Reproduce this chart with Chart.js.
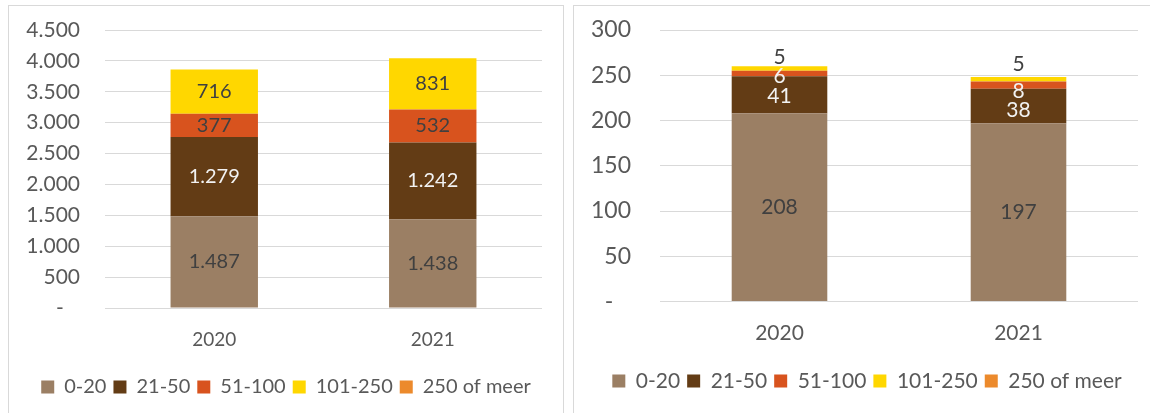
<!DOCTYPE html>
<html><head><meta charset="utf-8">
<script src="https://cdn.jsdelivr.net/npm/chart.js@4.4.1/dist/chart.umd.min.js"></script>
<style>
html,body{margin:0;padding:0;background:#fff;width:1150px;height:413px;overflow:hidden;}
.panel{position:absolute;border:1px solid #d9d9d9;background:#fff;}
#p1{left:8px;top:5px;width:554px;height:430px;}
#p2{left:573px;top:5px;width:600px;height:430px;}
canvas{position:absolute;left:0;top:0;}
</style></head>
<body>
<div class="panel" id="p1"><canvas id="c1" width="554" height="407"></canvas></div>
<div class="panel" id="p2"><canvas id="c2" width="586" height="407"></canvas></div>
<script>
// ---- data ----
const categories = ['2020', '2021'];
const seriesNames = ['0-20', '21-50', '51-100', '101-250', '250 of meer'];

// left chart
const left_0_20    = [1487, 1438];
const left_21_50   = [1279, 1242];
const left_51_100  = [377, 532];
const left_101_250 = [716, 831];
const left_250plus = [0, 0];
const leftTickMax = 4500, leftTickStep = 500;

// right chart
const right_0_20    = [208, 197];
const right_21_50   = [41, 38];
const right_51_100  = [6, 8];
const right_101_250 = [5, 5];
const right_250plus = [0, 0];
const rightTickMax = 300, rightTickStep = 50;

// ---- style ----
const colors = ['#9B7F64', '#633C15', '#D8531E', '#FFD700', '#EC8A2C'];
const FONT = 'Lato, "Open Sans", sans-serif';
const TXT = '#595959';

function fmt(v) { return String(v).replace(/\B(?=(\d{3})+(?!\d))/g, '.'); }

const segLabels = {
  id: 'segLabels',
  afterLayout(chart, args, opts) {
    const lg = chart.legend;
    if (lg && opts.legendShift) { lg.left += opts.legendShift; lg.right += opts.legendShift; }
  },
  afterDatasetsDraw(chart, args, opts) {
    const ctx = chart.ctx;
    ctx.save();
    ctx.font = opts.size + 'px ' + FONT;
    ctx.textAlign = 'center';
    ctx.textBaseline = 'middle';
    chart.data.datasets.forEach((ds, di) => {
      const meta = chart.getDatasetMeta(di);
      meta.data.forEach((bar, i) => {
        const v = ds.data[i];
        if (!v) return;
        const off = (opts.offsets[di] || [])[i] || 0;
        ctx.fillStyle = opts.colors[di];
        ctx.fillText(fmt(v), bar.x, (bar.y + bar.base) / 2 + off);
      });
    });
    ctx.restore();
  }
};

function makeChart(id, seriesData, cfg) {
  const datasets = seriesData.map((d, k) => ({
    label: seriesNames[k],
    data: d,
    backgroundColor: colors[k],
    borderWidth: 0,
    barPercentage: 0.4,
    categoryPercentage: 1.0
  }));
  return new Chart(document.getElementById(id), {
    type: 'bar',
    data: { labels: categories, datasets },
    plugins: [segLabels],
    options: {
      responsive: false,
      animation: false,
      devicePixelRatio: 1,
      layout: { padding: { left: 0, right: cfg.padR, top: cfg.padT, bottom: cfg.padB } },
      scales: {
        x: {
          stacked: true,
          grid: { display: false, drawTicks: false },
          border: { display: false },
          ticks: { color: TXT, font: { family: FONT, size: cfg.xFont }, padding: cfg.xPad },
          afterFit(s) { s.height = cfg.xH; s.paddingLeft = 0; s.paddingRight = 0; }
        },
        y: {
          stacked: true,
          min: 0, max: cfg.max,
          grid: { color: '#D9D9D9', lineWidth: 1, drawTicks: false },
          border: { display: false },
          ticks: {
            stepSize: cfg.step,
            color: TXT,
            font: { family: FONT, size: cfg.yFont },
            padding: cfg.yPad,
            callback: (v) => v === 0 ? '-   ' : fmt(v)
          },
          afterFit(s) { s.width = cfg.yW; s.paddingTop = 0; s.paddingBottom = 0; }
        }
      },
      plugins: {
        legend: {
          position: 'bottom',
          labels: {
            color: TXT,
            font: { family: FONT, size: cfg.legFont },
            boxWidth: 13, boxHeight: 13,
            padding: 7
          }
        },
        tooltip: { enabled: false },
        segLabels: { size: cfg.lblFont, colors: cfg.lblColors, offsets: cfg.offsets, legendShift: cfg.padR / 2 }
      }
    }
  });
}

makeChart('c1', [left_0_20, left_21_50, left_51_100, left_101_250, left_250plus], {
  padT: 24, padR: 21, padB: 6, xH: 62, xPad: 20, xFont: 19, yFont: 21, yPad: 25, yW: 96,
  legFont: 20, lblFont: 20, max: leftTickMax, step: leftTickStep,
  lblColors: ['#404040', '#F2F2F2', '#404040', '#404040', '#404040'],
  offsets: {}
});

makeChart('c2', [right_0_20, right_21_50, right_51_100, right_101_250, right_250plus], {
  padT: 24, padR: 22, padB: 11.5, xH: 62, xPad: 19, xFont: 21, yFont: 23, yPad: 29, yW: 86,
  legFont: 21, lblFont: 21, max: rightTickMax, step: rightTickStep,
  lblColors: ['#404040', '#F2F2F2', '#F2F2F2', '#404040', '#404040'],
  offsets: { 1: [2, 4], 2: [3, 6], 3: [-11, -15] }
});
</script>
</body></html>
